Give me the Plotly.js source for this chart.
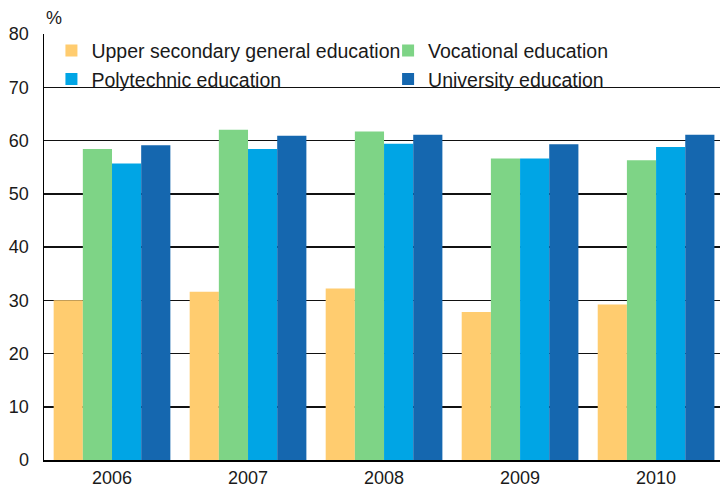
<!DOCTYPE html>
<html>
<head>
<meta charset="utf-8">
<script src="https://cdn.plot.ly/plotly-3.0.1.min.js"></script>
<style>html,body{margin:0;padding:0;background:#fff;}#chart{width:720px;height:488px;}</style>
</head>
<body>
<div id="chart"></div>
<script>
const years = ['2006', '2007', '2008', '2009', '2010'];
const seriesNames = ['Upper secondary general education', 'Vocational education', 'Polytechnic education', 'University education'];
const upperSecondary = [30.0, 31.6, 32.2, 27.8, 29.2];
const vocational = [58.4, 62.0, 61.7, 56.6, 56.3];
const polytechnic = [55.7, 58.4, 59.4, 56.6, 58.8];
const university = [59.1, 60.9, 61.1, 59.3, 61.1];
const yTicks = [0, 10, 20, 30, 40, 50, 60, 70, 80];
const colors = ['#FFCC6F', '#7ED486', '#00A5E5', '#1567AF'];
const legendIds = ['legend', 'legend2', 'legend', 'legend2'];

const values = [upperSecondary, vocational, polytechnic, university];
const traces = values.map((v, i) => ({
  type: 'bar',
  name: seriesNames[i],
  x: years,
  y: v,
  legend: legendIds[i],
  marker: {color: colors[i], line: {width: 0}}
}));

const legendCommon = {
  orientation: 'v',
  xanchor: 'left',
  y: 1.006, yanchor: 'top',
  bgcolor: 'rgba(0,0,0,0)',
  font: {size: 19.5, color: '#1a1a1a'},
  traceorder: 'normal'
};

const layout = {
  width: 720,
  height: 488,
  margin: {l: 44, r: 0, t: 34, b: 28},
  paper_bgcolor: '#fff',
  plot_bgcolor: '#fff',
  font: {family: 'Liberation Sans, Arial, sans-serif', size: 18, color: '#1a1a1a'},
  barmode: 'group',
  bargap: 0.142,
  bargroupgap: 0,
  showlegend: true,
  legend: Object.assign({}, legendCommon, {x: 0.011}),
  legend2: Object.assign({}, legendCommon, {x: 0.509}),
  xaxis: {
    type: 'category',
    range: [-0.5, 4.47],
    showline: true, linecolor: '#000', linewidth: 1.5,
    showgrid: false, zeroline: false,
    ticks: 'outside', ticklen: 1, tickcolor: 'rgba(0,0,0,0)',
    tickfont: {size: 18, color: '#1a1a1a'}
  },
  yaxis: {
    range: [0, 80],
    tickvals: yTicks,
    ticktext: yTicks.map(String),
    showline: true, linecolor: '#000', linewidth: 1.5,
    showgrid: true, gridcolor: '#111', gridwidth: 1.5,
    zeroline: false,
    ticks: 'outside', ticklen: 10, tickcolor: 'rgba(0,0,0,0)',
    tickfont: {size: 18, color: '#1a1a1a'}
  },
  annotations: [{
    text: '%', xref: 'paper', yref: 'paper', x: 0, y: 1,
    xanchor: 'left', yanchor: 'bottom', yshift: 4, xshift: 0,
    showarrow: false, font: {size: 18, color: '#1a1a1a'}
  }]
};

Plotly.newPlot('chart', traces, layout, {displayModeBar: false, staticPlot: true});
</script>
</body>
</html>
